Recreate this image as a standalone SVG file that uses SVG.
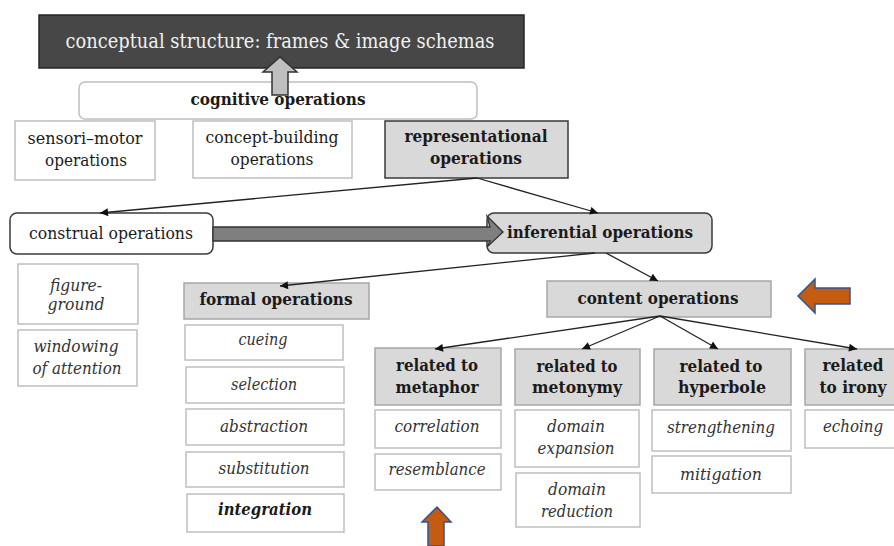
<svg xmlns="http://www.w3.org/2000/svg" width="894" height="546" viewBox="0 0 894 546">
<defs>
<marker id="ah" viewBox="0 0 10 10" refX="10" refY="5" markerWidth="9" markerHeight="8" markerUnits="userSpaceOnUse" orient="auto">
<path d="M0,0 L10,5 L0,10 z" fill="#111"/>
</marker>
<style>
text{font-family:"DejaVu Serif","Liberation Serif",serif;font-size:16px;fill:#1a1a1a;text-anchor:middle}
.b{font-weight:bold}
.i{font-style:italic;fill:#333}
.item{fill:#fff;stroke:#bfbfbf;stroke-width:1.5}
.grey{fill:#d9d9d9;stroke:#a6a6a6;stroke-width:1.5}
.dark{stroke:#3a3a3a;stroke-width:1.5}
.conn line{stroke:#222;stroke-width:1.3;marker-end:url(#ah)}
</style>
</defs>
<rect width="894" height="546" fill="#fff"/>

<g id="conceptual">
<rect x="39" y="15" width="485" height="53" fill="#474747" stroke="#262626" stroke-width="1.5"/>
<text x="280" y="48" style="font-size:20px;fill:#f2f2f2" textLength="429" lengthAdjust="spacingAndGlyphs">conceptual structure: frames &amp; image schemas</text>
</g>

<g id="cognitive">
<rect x="79" y="82" width="398" height="37" rx="6" fill="#fff" stroke="#bfbfbf" stroke-width="1.5"/>
<text class="b" x="278" y="105" textLength="175" lengthAdjust="spacingAndGlyphs">cognitive operations</text>
</g>

<g id="up-grey-arrow">
<path d="M272,95 L272,72 L263,72 L280,57 L297,72 L288,72 L288,95 Z" fill="#bfbfbf" stroke="#333" stroke-width="1.5"/>
</g>

<g id="sensori">
<rect class="item" x="15" y="121" width="140" height="59"/>
<text x="85" y="144" textLength="115" lengthAdjust="spacingAndGlyphs">sensori–motor</text>
<text x="86" y="166" textLength="82" lengthAdjust="spacingAndGlyphs">operations</text>
</g>

<g id="concept-building">
<rect class="item" x="193" y="121" width="159" height="57"/>
<text x="272" y="143" textLength="133" lengthAdjust="spacingAndGlyphs">concept-building</text>
<text x="272" y="165" textLength="83" lengthAdjust="spacingAndGlyphs">operations</text>
</g>

<g id="representational">
<rect x="385" y="121" width="183" height="57" fill="#d9d9d9" class="dark"/>
<text class="b" x="476" y="142" textLength="143" lengthAdjust="spacingAndGlyphs">representational</text>
<text class="b" x="476" y="164" textLength="92" lengthAdjust="spacingAndGlyphs">operations</text>
</g>

<g id="construal">
<rect x="10" y="213" width="203" height="41" rx="7" fill="#fff" class="dark"/>
<text x="111" y="239" textLength="164" lengthAdjust="spacingAndGlyphs">construal operations</text>
</g>

<g id="inferential">
<rect x="487" y="213" width="225" height="40" rx="7" fill="#d9d9d9" class="dark"/>
<text class="b" x="600" y="238" textLength="186" lengthAdjust="spacingAndGlyphs">inferential operations</text>
</g>

<g id="big-grey-arrow">
<path d="M213,227 L490,227 L487,216 L503,232 L487,247 L490,241 L213,241 Z" fill="#7f7f7f" stroke="#333" stroke-width="1.3"/>
</g>

<g id="content">
<rect class="grey" x="547" y="281" width="224" height="36"/>
<text class="b" x="658" y="304" textLength="161" lengthAdjust="spacingAndGlyphs">content operations</text>
</g>

<g id="orange-left-arrow">
<path d="M850,288 L815,288 L815,279 L798,296 L815,313 L815,304 L850,304 Z" fill="#c55a11" stroke="#2f5597" stroke-width="1.5"/>
</g>

<g id="figure-ground">
<rect class="item" x="18" y="264" width="120" height="60"/>
<text class="i" x="76" y="291" textLength="52" lengthAdjust="spacingAndGlyphs">figure-</text>
<text class="i" x="76" y="310" textLength="57" lengthAdjust="spacingAndGlyphs">ground</text>
</g>

<g id="windowing">
<rect class="item" x="18" y="330" width="119" height="56"/>
<text class="i" x="76" y="352" textLength="85" lengthAdjust="spacingAndGlyphs">windowing</text>
<text class="i" x="77" y="374" textLength="89" lengthAdjust="spacingAndGlyphs">of attention</text>
</g>

<g id="formal">
<rect class="grey" x="184" y="283" width="185" height="36"/>
<text class="b" x="276" y="305" textLength="153" lengthAdjust="spacingAndGlyphs">formal operations</text>
</g>

<g id="cueing">
<rect class="item" x="185" y="325" width="158" height="35"/>
<text class="i" x="263" y="345" textLength="49" lengthAdjust="spacingAndGlyphs">cueing</text>
</g>
<g id="selection">
<rect class="item" x="186" y="367" width="158" height="36"/>
<text class="i" x="264" y="390" textLength="66" lengthAdjust="spacingAndGlyphs">selection</text>
</g>
<g id="abstraction">
<rect class="item" x="186" y="409" width="158" height="36"/>
<text class="i" x="264" y="432" textLength="88" lengthAdjust="spacingAndGlyphs">abstraction</text>
</g>
<g id="substitution">
<rect class="item" x="186" y="452" width="158" height="35"/>
<text class="i" x="264" y="474" textLength="91" lengthAdjust="spacingAndGlyphs">substitution</text>
</g>
<g id="integration">
<rect class="item" x="187" y="494" width="157" height="38"/>
<text class="i b" x="265" y="515" style="fill:#1a1a1a" textLength="94" lengthAdjust="spacingAndGlyphs">integration</text>
</g>

<g id="metaphor">
<rect class="grey" x="375" y="348" width="126" height="57"/>
<text class="b" x="437" y="371" textLength="82" lengthAdjust="spacingAndGlyphs">related to</text>
<text class="b" x="437" y="393" textLength="83" lengthAdjust="spacingAndGlyphs">metaphor</text>
</g>
<g id="correlation">
<rect class="item" x="375" y="410" width="126" height="38"/>
<text class="i" x="437" y="432" textLength="85" lengthAdjust="spacingAndGlyphs">correlation</text>
</g>
<g id="resemblance">
<rect class="item" x="375" y="454" width="126" height="36"/>
<text class="i" x="437" y="475" textLength="97" lengthAdjust="spacingAndGlyphs">resemblance</text>
</g>

<g id="orange-up-arrow">
<path d="M428,546 L428,522 L422,522 L437,507 L451,522 L444,522 L444,546 Z" fill="#c55a11" stroke="#2f5597" stroke-width="1.5"/>
</g>

<g id="metonymy">
<rect class="grey" x="515" y="349" width="125" height="56"/>
<text class="b" x="577" y="372" textLength="81" lengthAdjust="spacingAndGlyphs">related to</text>
<text class="b" x="577" y="393" textLength="90" lengthAdjust="spacingAndGlyphs">metonymy</text>
</g>
<g id="domain-expansion">
<rect class="item" x="515" y="410" width="124" height="57"/>
<text class="i" x="576" y="432" textLength="58" lengthAdjust="spacingAndGlyphs">domain</text>
<text class="i" x="576" y="454" textLength="77" lengthAdjust="spacingAndGlyphs">expansion</text>
</g>
<g id="domain-reduction">
<rect class="item" x="516" y="473" width="124" height="54"/>
<text class="i" x="577" y="495" textLength="58" lengthAdjust="spacingAndGlyphs">domain</text>
<text class="i" x="577" y="517" textLength="72" lengthAdjust="spacingAndGlyphs">reduction</text>
</g>

<g id="hyperbole">
<rect class="grey" x="654" y="349" width="137" height="56"/>
<text class="b" x="721" y="372" textLength="83" lengthAdjust="spacingAndGlyphs">related to</text>
<text class="b" x="722" y="393" textLength="88" lengthAdjust="spacingAndGlyphs">hyperbole</text>
</g>
<g id="strengthening">
<rect class="item" x="652" y="410" width="139" height="41"/>
<text class="i" x="721" y="433" textLength="108" lengthAdjust="spacingAndGlyphs">strengthening</text>
</g>
<g id="mitigation">
<rect class="item" x="652" y="456" width="139" height="37"/>
<text class="i" x="721" y="480" textLength="82" lengthAdjust="spacingAndGlyphs">mitigation</text>
</g>

<g id="irony">
<rect class="grey" x="805" y="349" width="95" height="56"/>
<text class="b" x="853" y="371" textLength="61" lengthAdjust="spacingAndGlyphs">related</text>
<text class="b" x="853" y="393" textLength="67" lengthAdjust="spacingAndGlyphs">to irony</text>
</g>
<g id="echoing">
<rect class="item" x="805" y="410" width="95" height="38"/>
<text class="i" x="853" y="432" textLength="60" lengthAdjust="spacingAndGlyphs">echoing</text>
</g>

<g id="connectors" class="conn">
<line x1="477" y1="178" x2="100" y2="213"/>
<line x1="477" y1="178" x2="598" y2="213"/>
<line x1="595" y1="253" x2="280" y2="286"/>
<line x1="606" y1="253" x2="658" y2="281"/>
<line x1="660" y1="316" x2="435" y2="349"/>
<line x1="660" y1="316" x2="582" y2="349"/>
<line x1="660" y1="316" x2="718" y2="349"/>
<line x1="660" y1="316" x2="857" y2="349"/>
</g>
</svg>
